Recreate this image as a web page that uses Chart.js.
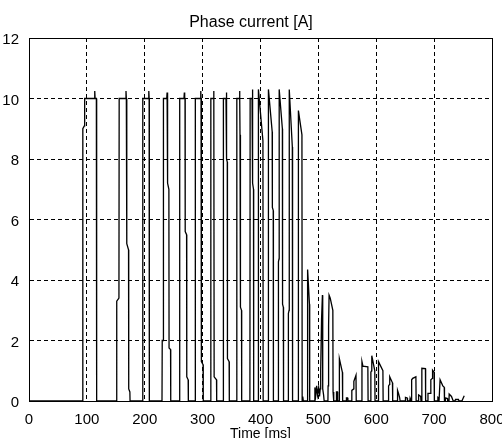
<!DOCTYPE html>
<html>
<head>
<meta charset="utf-8">
<title>Phase current</title>
<script src="https://cdn.jsdelivr.net/npm/chart.js@4.4.0/dist/chart.umd.min.js"></script>
<style>
  html, body { margin: 0; padding: 0; background: #fff; }
  #wrap { width: 502px; height: 438px; }
</style>
</head>
<body>
<div id="wrap"><canvas id="currentChart" width="502" height="438"></canvas></div>
<script>
// values (ms / A)
const timeMs = [
    0, 92.6, 93.0, 95.8, 96.2, 113.0, 113.6, 114.2, 116.4, 116.9,
    151.2, 151.6, 155.4, 155.8, 167.0, 167.6, 168.2, 168.8, 169.1, 172.0, 172.3, 174.3, 174.6,
    196.2, 196.6, 206.4, 207.0, 207.6, 207.9,
    229.8, 230.2, 231.9, 232.3, 238.0, 238.6, 239.3, 239.6, 241.7, 242.0, 244.6, 244.9,
    260.0, 260.4, 267.8, 268.4, 269.0, 269.6, 269.9, 272.3, 272.6, 275.0, 275.3,
    287.0, 287.4, 296.2, 296.8, 297.3, 297.7, 298.0, 300.8, 301.1,
    313.8, 314.2, 318.6, 319.1, 319.6, 319.9, 324.0, 324.3,
    335.5, 335.9, 340.4, 340.9, 341.4, 341.7, 342.6, 342.9, 345.8, 346.1,
    358.7, 359.1, 363.4, 363.9, 364.3, 364.6, 365.2, 365.5, 367.2, 367.5,
    381.7, 382.1, 385.4, 385.9, 386.4, 386.7, 387.9, 388.2,
    396.0, 396.4, 404.2, 404.6,
    413.3, 413.7, 420.2, 420.5, 422.0, 422.3,
    430.6, 431.0, 432.0, 432.3, 437.8, 438.1, 439.5, 439.8,
    447.8, 448.2, 449.4, 449.7, 455.0, 455.4,
    465.1, 465.5, 471.6, 472.0, 473.0, 474.0,
    481.0, 481.4, 484.6, 485.0,
    493.0, 494.0, 495.5, 497.0, 498.5, 500.5, 502.0, 503.2, 504.0, 505.5, 507.0, 507.5, 509.0, 510.0,
    516.5, 516.8, 517.1, 518.2, 518.5, 520.5, 525.0, 525.4, 526.5,
    531.0, 531.3, 533.0, 533.3, 536.0, 536.3, 541.5, 541.9,
    548.0, 548.5, 550.5, 551.0, 557.5, 557.8, 561.0, 561.3, 565.0, 565.4,
    575.0, 575.3, 577.0, 585.5, 585.9, 590.4, 590.7, 592.0, 592.3, 597.5, 597.9,
    603.6, 603.9, 611.5, 611.9, 621.0, 621.3, 623.0, 623.3, 628.0, 628.4,
    636.5, 636.8, 638.5, 640.5, 641.2, 650.0, 650.5, 653.5, 654.0,
    658.0, 658.5, 660.5, 661.0, 661.3, 663.0, 668.5, 668.9,
    672.7, 673.2, 676.8, 677.3, 678.5, 678.8, 685.0, 685.3,
    689.0, 689.4, 693.0, 694.3, 697.0, 697.3, 700.0, 700.4,
    706.0, 706.5, 708.0, 708.5, 710.0, 710.3, 715.0, 717.5, 717.9,
    719.0, 719.5, 723.0, 723.4, 725.7, 726.0, 730.0, 733.0,
    736.0, 737.0, 742.0, 743.0, 748.0, 752.0
];
const currentA = [
    0, 0, 9.0, 9.1, 10.0, 10.0, 10.25, 10.0, 10.0, 0,
    0, 3.3, 3.4, 10.0, 10.0, 10.25, 10.0, 10.0, 5.2, 5.0, 0.4, 0.3, 0,
    0, 10.0, 10.0, 10.25, 10.0, 0,
    0, 2.0, 2.0, 10.0, 10.0, 10.2, 10.0, 7.2, 7.0, 1.75, 1.7, 0,
    0, 10.0, 10.0, 10.2, 10.0, 10.0, 5.6, 5.5, 0.8, 0.7, 0,
    0, 10.0, 10.0, 10.25, 10.0, 10.0, 1.3, 1.2, 0,
    0, 10.0, 10.0, 10.25, 10.0, 0.8, 0.7, 0,
    0, 10.0, 10.0, 10.2, 10.0, 8.0, 7.9, 1.4, 1.3, 0,
    0, 10.0, 10.0, 10.25, 10.0, 8.8, 8.7, 3.1, 3.0, 0,
    0, 10.0, 10.0, 10.3, 10.0, 7.2, 7.0, 0,
    0, 10.3, 8.6, 0,
    0, 10.3, 8.9, 6.4, 6.3, 0,
    0, 4.6, 4.7, 10.3, 9.0, 3.2, 3.1, 0,
    0, 2.9, 3.0, 10.3, 8.4, 0,
    0, 9.6, 8.8, 0, 0.15, 0,
    0, 4.35, 3.2, 0,
    0, 0.45, 0.2, 0.5, 0.2, 0.45, 0.15, 0.4, 1.0, 2.7, 3.5, 0.4, 0.2, 0,
    0, 0.5, 2.45, 2.5, 3.5, 3.4, 3.0, 0.3, 0,
    0, 0.3, 0.3, 0, 0, 1.4, 0.95, 0,
    0, 0.1, 0.1, 0, 0, 0.35, 0.4, 0.65, 0.85, 0,
    0, 1.3, 1.15, 1.13, 0, 0, 0.95, 1.0, 1.5, 1.0, 0,
    0, 1.3, 1.0, 0, 0, 0.5, 0.55, 0.8, 0.6, 0,
    0, 0.35, 0.25, 0.1, 0, 0, 0.12, 0.1, 0,
    0, 0.1, 0, 0, 0.7, 0.75, 0.8, 0,
    0, 0.2, 0.15, 0, 0, 1.08, 1.07, 0,
    0, 0.25, 0.25, 0.7, 0.75, 1.02, 0.95, 0,
    0, 0.12, 0.1, 0, 0, 0.7, 0.5, 0.45, 0,
    0, 0.1, 0.08, 0, 0, 0.23, 0.15, 0,
    0, 0.05, 0.05, 0, 0, 0.17
];
const xTicks = [0, 100, 200, 300, 400, 500, 600, 700, 800];
const yTicks = [0, 2, 4, 6, 8, 10, 12];

const points = timeMs.map((t, i) => ({ x: t, y: currentA[i] }));

Chart.defaults.font.family = "'Liberation Sans', Arial, sans-serif";
Chart.defaults.color = '#000';

// solid box round the plot area
const frame = {
    id: 'frame',
    afterDraw(chart) {
        const { ctx, chartArea: a } = chart;
        ctx.save();
        ctx.strokeStyle = '#000';
        ctx.lineWidth = 1;
        ctx.strokeRect(Math.round(a.left) + 0.5, Math.round(a.top) + 0.5,
            Math.round(a.right - a.left), Math.round(a.bottom - a.top));
        ctx.restore();
    }
};

const ctx = document.getElementById('currentChart').getContext('2d');
const currentChart = new Chart(ctx, {
    type: 'line',
    data: {
        datasets: [{
            label: 'Phase current',
            data: points,
            borderColor: '#000',
            borderWidth: 1.3,
            pointRadius: 0,
            tension: 0,
            fill: false
        }]
    },
    options: {
        responsive: false,
        animation: false,
        layout: { padding: 0 },
        plugins: {
            legend: { display: false },
            tooltip: { enabled: false },
            title: {
                display: true,
                text: 'Phase current [A]',
                color: '#000',
                font: { size: 16, weight: 'normal' },
                padding: { top: 13, bottom: 5.8 }
            }
        },
        scales: {
            x: {
                type: 'linear',
                min: 0,
                max: 800,
                afterBuildTicks: function(scale) {
                    scale.ticks = xTicks.map(v => ({ value: v }));
                },
                afterFit: function(scale) {
                    scale.height = 37;
                    scale.paddingRight = 10;
                },
                ticks: { padding: 10, maxRotation: 0, autoSkip: false, font: { size: 15 } },
                grid: { color: '#000', lineWidth: 1, drawTicks: false },
                border: { color: '#000', dash: [4, 3] },
                title: {
                    display: true,
                    text: 'Time [ms]',
                    font: { size: 14, lineHeight: 0.57 },
                    padding: 0
                }
            },
            y: {
                min: 0,
                max: 12,
                afterBuildTicks: function(scale) {
                    scale.ticks = yTicks.map(v => ({ value: v }));
                },
                afterFit: function(scale) {
                    scale.width = 29;
                },
                ticks: { padding: 10, labelOffset: 2, font: { size: 15 } },
                grid: { color: '#000', lineWidth: 1, drawTicks: false },
                border: { color: '#000', dash: [4, 3] }
            }
        }
    },
    plugins: [frame]
});
</script>
</body>
</html>
